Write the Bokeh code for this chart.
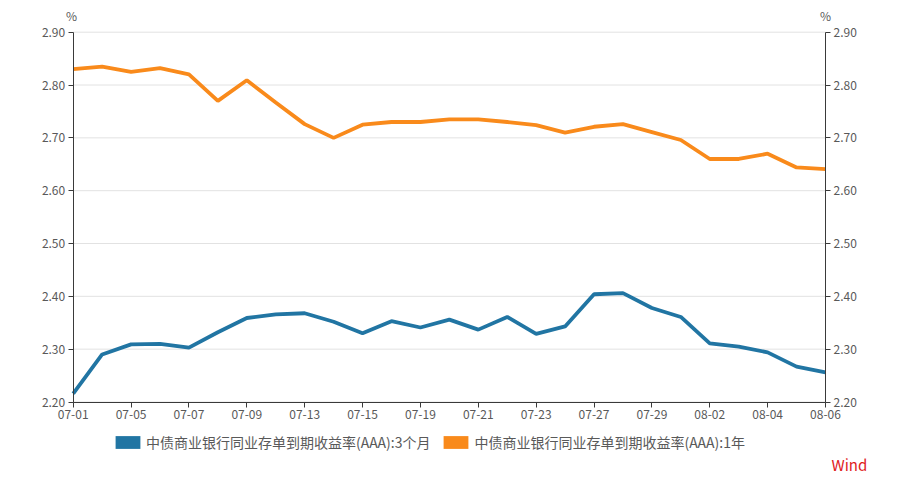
from bokeh.plotting import figure
from bokeh.models import (LinearAxis, Range1d, FixedTicker, Legend, LegendItem,
                          Label, ColumnDataSource, NumeralTickFormatter)
from bokeh.embed import file_html
from bokeh.resources import INLINE

dates = ["07-01", "07-02", "07-05", "07-06", "07-07", "07-08", "07-09",
         "07-12", "07-13", "07-14", "07-15", "07-16", "07-19", "07-20",
         "07-21", "07-22", "07-23", "07-26", "07-27", "07-28", "07-29",
         "07-30", "08-02", "08-03", "08-04", "08-05", "08-06"]
rate_3m = [2.216, 2.290, 2.309, 2.310, 2.303, 2.332, 2.359, 2.366, 2.368,
           2.352, 2.330, 2.353, 2.341, 2.356, 2.337, 2.361, 2.329, 2.343,
           2.404, 2.406, 2.378, 2.361, 2.311, 2.305, 2.294, 2.267, 2.256]
rate_1y = [2.830, 2.835, 2.825, 2.832, 2.820, 2.770, 2.809, 2.767, 2.726,
           2.700, 2.725, 2.730, 2.730, 2.735, 2.735, 2.730, 2.724, 2.710,
           2.721, 2.726, 2.711, 2.696, 2.660, 2.660, 2.670, 2.644, 2.641]
name_3m = "中债商业银行同业存单到期收益率(AAA):3个月"
name_1y = "中债商业银行同业存单到期收益率(AAA):1年"
y_ticks = [2.20, 2.30, 2.40, 2.50, 2.60, 2.70, 2.80, 2.90]

BLUE = "#2175a3"
ORANGE = "#f98a1b"
FONT = "Noto Sans CJK SC"
AXIS_COLOR = "#3a3a3a"
LABEL_COLOR = "#595959"

# canvas layout (pixels)
W, H = 890, 476
X0_PX, X1_PX = 72.7, 825.0      # first / last category
YT_PX, YB_PX = 31.7, 401.5      # top / bottom y tick

n = len(dates)
idx = list(range(n))
xs = (X1_PX - X0_PX) / (n - 1)
ys = (YB_PX - YT_PX) / (y_ticks[-1] - y_ticks[0])
x_range = Range1d(-X0_PX / xs, (n - 1) + (W - X1_PX) / xs)
y_range = Range1d(y_ticks[0] - (H - YB_PX) / ys, y_ticks[-1] + YT_PX / ys)

src = ColumnDataSource(dict(x=idx, a=rate_3m, b=rate_1y))

p = figure(width=W, height=H, output_backend="svg", toolbar_location=None,
           x_range=x_range, y_range=y_range,
           min_border_left=0, min_border_right=0, min_border_top=0,
           min_border_bottom=0)
p.outline_line_color = None
p.background_fill_color = "white"
p.border_fill_color = "white"
p.xgrid.grid_line_color = None
p.ygrid.grid_line_color = None

# horizontal grid lines spanning the category extent
p.segment(x0=[idx[0]] * len(y_ticks), x1=[idx[-1]] * len(y_ticks),
          y0=y_ticks, y1=y_ticks, line_color="#e2e2e2", line_width=1)

p.line("x", "a", source=src, line_color=BLUE, line_width=3.8)
p.line("x", "b", source=src, line_color=ORANGE, line_width=3.8)

# axes
xa = p.xaxis[0]
xa.ticker = FixedTicker(ticks=idx[::2])
xa.major_label_overrides = {i: dates[i] for i in idx[::2]}
xa.fixed_location = y_ticks[0]
xa.bounds = (idx[0], idx[-1])
ya = p.yaxis[0]
ya.fixed_location = idx[0]
ra = LinearAxis()
ra.fixed_location = idx[-1]
p.add_layout(ra, "right")
for ax in (ya, ra):
    ax.ticker = FixedTicker(ticks=y_ticks)
    ax.formatter = NumeralTickFormatter(format="0.00")
    ax.bounds = (y_ticks[0], y_ticks[-1])
for ax in (xa, ya, ra):
    ax.axis_line_color = AXIS_COLOR
    ax.major_tick_line_color = AXIS_COLOR
    ax.major_tick_out = 5
    ax.major_tick_in = 0
    ax.minor_tick_line_color = None
    ax.major_label_text_font = FONT
    ax.major_label_text_font_size = "12px"
    ax.major_label_text_color = LABEL_COLOR
    ax.major_label_standoff = 3
xa.major_label_standoff = 3

# unit labels
for xpx in (71, 825):
    p.add_layout(Label(x=xpx, y=H - 15, x_units="screen", y_units="screen",
                       text="%", text_font=FONT, text_font_size="12px",
                       text_color=LABEL_COLOR, text_align="center",
                       text_baseline="middle"))

# Wind mark
p.add_layout(Label(x=831, y=H - 464, x_units="screen", y_units="screen",
                   text="Wind", text_font=FONT, text_font_size="15px",
                   text_color="#e0201b", text_align="left",
                   text_baseline="middle"))

# legend with box swatches (zero-size quads so the legend has a fill to draw)
r1 = p.quad(left=idx[:1], right=idx[:1], top=rate_3m[:1], bottom=rate_3m[:1],
            fill_color=BLUE, line_color=None)
r2 = p.quad(left=idx[:1], right=idx[:1], top=rate_1y[:1], bottom=rate_1y[:1],
            fill_color=ORANGE, line_color=None)
legend = Legend(items=[LegendItem(label=name_3m, renderers=[r1]),
                       LegendItem(label=name_1y, renderers=[r2])],
                orientation="horizontal", location=(112, H - 452.4),
                glyph_width=31, glyph_height=16, label_height=16,
                label_standoff=3, spacing=10, padding=0, margin=0,
                border_line_color=None, background_fill_alpha=0,
                label_text_font=FONT, label_text_font_size="14px",
                label_text_color=LABEL_COLOR)
p.add_layout(legend, "center")

open("out.html", "w").write(file_html(p, INLINE))
